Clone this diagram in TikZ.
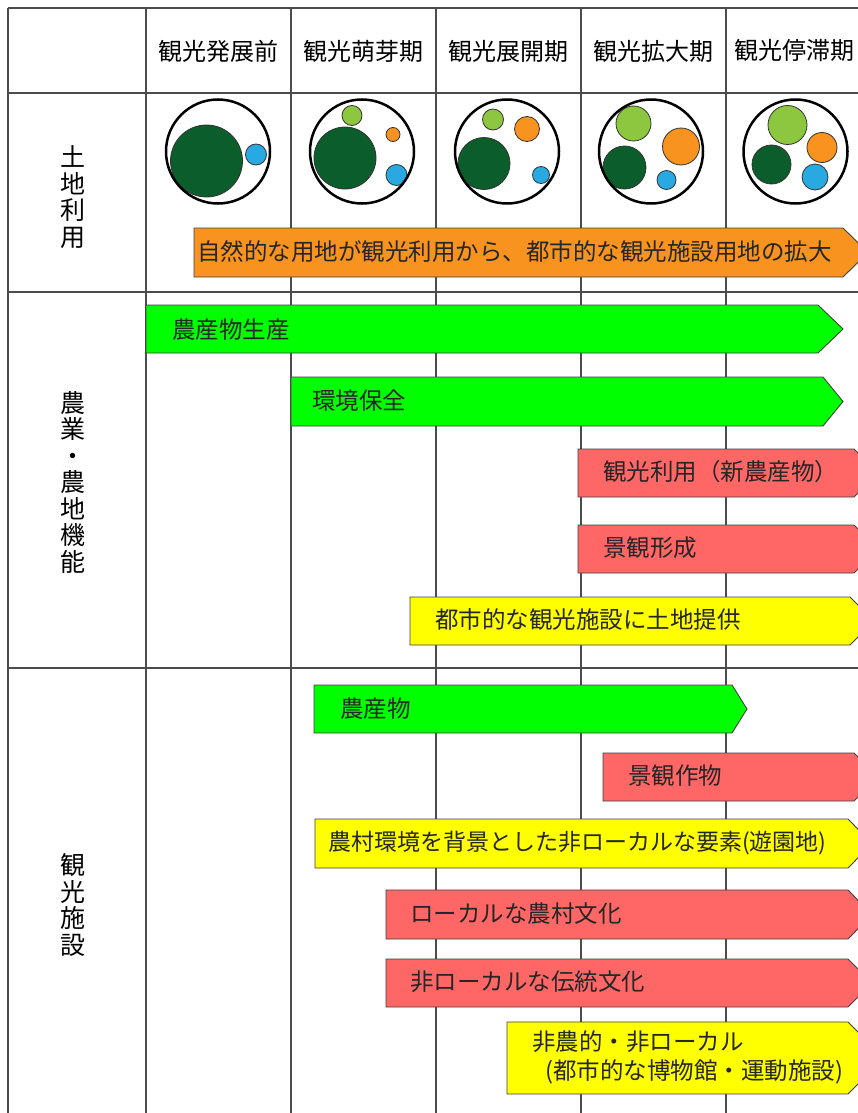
\documentclass[tikz,border=0pt]{standalone}
\usepackage{fontspec}
\setmainfont{Noto Sans CJK JP}
\definecolor{dkgreen}{HTML}{0B5E2B}
\definecolor{ltgreen}{HTML}{8DC63F}
\definecolor{corange}{HTML}{F7931E}
\definecolor{cblue}{HTML}{29A9E1}
\definecolor{bgreen}{HTML}{00FF00}
\definecolor{bred}{HTML}{FF6666}
\definecolor{byellow}{HTML}{FFFF00}
\definecolor{borange}{HTML}{F7931E}
\newcommand{\abox}[6]{\filldraw[boxline, fill=#1] (#2,#3) -- (#4,#3) -- (#6,{(#3+#5)/2}) -- (#4,#5) -- (#2,#5) -- cycle;}
\begin{document}
\begin{tikzpicture}[x=1pt,y=-1pt,
  grid/.style={draw=black!70, line width=1.2pt},
  boxline/.style={draw=black!75, line width=0.9pt},
  lbl/.style={anchor=west, inner sep=0pt, text=black!85, font=\fontsize{23.5}{29}\selectfont},
  hdr/.style={inner sep=0pt, font=\fontsize{24}{26}\selectfont},
  side/.style={inner sep=0pt, align=center, font=\fontsize{25}{26.5}\selectfont},
  outer/.style={draw=black, line width=2.5pt},
  inner/.style={draw=black!80, line width=0.8pt}]
\useasboundingbox (0,0) rectangle (858,1113);
\clip (0,0) rectangle (858,1113);
\fill[white] (0,0) rectangle (858,1113);
% grid
\foreach \x in {8,146,291,436,581,726} \draw[grid] (\x,8) -- (\x,1113);
\foreach \y in {8,93,292,668} \draw[grid] (8,\y) -- (858,\y);
% headers
\node[hdr] (h1) at (218.5,51) {観光発展前};
\node[hdr] (h2) at (363.5,51) {観光萌芽期};
\node[hdr] (h3) at (508.5,51) {観光展開期};
\node[hdr] (h4) at (653.5,51) {観光拡大期};
\node[hdr] (h5) at (794,51) {観光停滞期};
% side labels
\node[side] (s1) at (73,197) {土\\地\\利\\用};
\node[side] (s2) at (73,482) {農\\業\\・\\農\\地\\機\\能};
\node[side] (s3) at (73,905) {観\\光\\施\\設};
% land use circles
\filldraw[inner, fill=dkgreen] (206.5,161) circle[radius=36];
\filldraw[inner, fill=cblue] (256,154.5) circle[radius=10.5];
\draw[outer] (218,151.5) circle[radius=52];

\filldraw[inner, fill=ltgreen] (352,115.5) circle[radius=10];
\filldraw[inner, fill=corange] (393,134.5) circle[radius=7];
\filldraw[inner, fill=dkgreen] (345,158) circle[radius=31];
\filldraw[inner, fill=cblue] (396.5,175) circle[radius=10.5];
\draw[outer] (362,151.5) circle[radius=52];

\filldraw[inner, fill=ltgreen] (493,119.5) circle[radius=10.5];
\filldraw[inner, fill=corange] (527,129) circle[radius=12.5];
\filldraw[inner, fill=dkgreen] (484,163.5) circle[radius=26];
\filldraw[inner, fill=cblue] (541,175) circle[radius=8.5];
\draw[outer] (507,151.5) circle[radius=52];

\filldraw[inner, fill=ltgreen] (633.5,123.5) circle[radius=17.5];
\filldraw[inner, fill=corange] (681,146.5) circle[radius=18.5];
\filldraw[inner, fill=dkgreen] (624.5,167.5) circle[radius=21.5];
\filldraw[inner, fill=cblue] (666.5,180) circle[radius=9.5];
\draw[outer] (651,151.5) circle[radius=52];

\filldraw[inner, fill=ltgreen] (787.5,125) circle[radius=19.5];
\filldraw[inner, fill=corange] (822,147.5) circle[radius=15];
\filldraw[inner, fill=dkgreen] (771.5,164.5) circle[radius=19.5];
\filldraw[inner, fill=cblue] (815,177) circle[radius=13];
\draw[outer] (795.5,151.5) circle[radius=52];
% arrow boxes
\abox{borange}{194}{228}{843}{277}{868}
\node[lbl] (t0) at (197,252) {自然的な用地が観光利用から、都市的な観光施設用地の拡大};

\abox{bgreen}{146}{305}{818}{353}{843}
\node[lbl] (t1) at (172,330) {農産物生産};
\abox{bgreen}{291}{377}{823}{426}{843}
\node[lbl] (t2) at (312,401) {環境保全};
\abox{bred}{578}{449}{854}{497}{878}
\node[lbl] (t3) at (603,472) {観光利用（新農産物）};
\abox{bred}{578}{525}{854}{573}{878}
\node[lbl] (t4) at (603,548) {景観形成};
\abox{byellow}{410}{597}{850}{645}{874}
\node[lbl] (t5) at (435,620) {都市的な観光施設に土地提供};

\abox{bgreen}{314}{685}{732}{733}{747}
\node[lbl] (t6) at (340,709) {農産物};
\abox{bred}{603}{753}{854}{801}{878}
\node[lbl] (t7) at (628,776) {景観作物};
\abox{byellow}{315}{819}{848}{868}{872}
\node[lbl, font=\fontsize{23}{29}\selectfont] (t8) at (328,843) {農村環境を背景とした非ローカルな要素(遊園地)};
\abox{bred}{386}{890}{848}{939}{872}
\node[lbl] (t9) at (410,914) {ローカルな農村文化};
\abox{bred}{386}{959}{848}{1007}{872}
\node[lbl] (t10) at (410,982) {非ローカルな伝統文化};
\abox{byellow}{507}{1022}{848}{1094}{884}
\node[lbl, align=left] (t11) at (532,1057) {非農的・非ローカル\\\hspace*{13pt}(都市的な博物館・運動施設)};
\end{tikzpicture}
\end{document}
